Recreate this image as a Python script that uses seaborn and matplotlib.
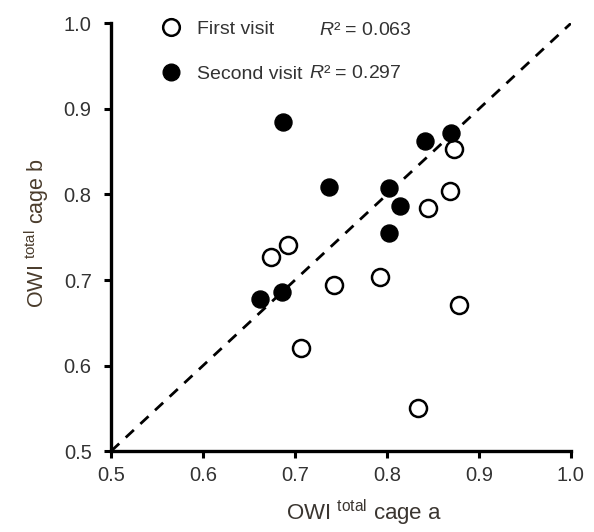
import matplotlib
matplotlib.use('Agg')
import matplotlib.pyplot as plt
import pandas as pd
import seaborn as sns
from matplotlib.lines import Line2D

# data
first_a = [0.873, 0.869, 0.845, 0.692, 0.674, 0.793, 0.742, 0.878, 0.707, 0.834]
first_b = [0.853, 0.804, 0.784, 0.741, 0.727, 0.703, 0.694, 0.671, 0.621, 0.551]
second_a = [0.687, 0.841, 0.870, 0.737, 0.802, 0.814, 0.802, 0.686, 0.662]
second_b = [0.885, 0.863, 0.872, 0.809, 0.808, 0.786, 0.755, 0.686, 0.678]
r2_first = 0.063
r2_second = 0.297
ticks = [0.5, 0.6, 0.7, 0.8, 0.9, 1.0]

sns.set_style('white')
plt.rcParams['font.family'] = ['Liberation Sans', 'DejaVu Sans']
plt.rcParams['mathtext.fontset'] = 'custom'
plt.rcParams['mathtext.rm'] = 'Liberation Sans'
plt.rcParams['mathtext.it'] = 'Liberation Sans:italic'

df = pd.concat([
    pd.DataFrame({'a': first_a, 'b': first_b, 'visit': 'First visit'}),
    pd.DataFrame({'a': second_a, 'b': second_b, 'visit': 'Second visit'}),
])

fig = plt.figure(figsize=(5.94, 5.32), dpi=100)
ax = fig.add_axes([0.187, 0.152, 0.774, 0.804])

ax.plot([0.5, 1.0], [0.5, 1.0], ls=(0, (4, 3.2)), color='black', lw=2, zorder=1)

sns.scatterplot(data=df[df.visit == 'First visit'], x='a', y='b', ax=ax,
                s=150, facecolor='white', edgecolor='black', linewidth=1.8,
                zorder=3, legend=False)
sns.scatterplot(data=df[df.visit == 'Second visit'], x='a', y='b', ax=ax,
                s=150, color='black', edgecolor='black', linewidth=1.0,
                zorder=3, legend=False)

ax.set_xlim(0.5, 1.0)
ax.set_ylim(0.5, 1.0)
ax.set_xticks(ticks)
ax.set_yticks(ticks)
ax.set_xticklabels([f'{t:.1f}' for t in ticks])
ax.set_yticklabels([f'{t:.1f}' for t in ticks])
ax.tick_params(axis='both', direction='out', length=5, width=2.2, colors='black',
               labelsize=14.5, labelcolor='#333333', left=True, bottom=True)
ax.tick_params(axis='x', pad=6)
ax.tick_params(axis='y', pad=9)
for side in ['top', 'right']:
    ax.spines[side].set_visible(False)
for side in ['left', 'bottom']:
    ax.spines[side].set_linewidth(2.4)
    ax.spines[side].set_color('black')

ax.set_xlabel('OWI $^{\\mathrm{total}}$ cage a', fontsize=16, color='#3a3530', labelpad=9)
ax.xaxis.label.set_x(0.55)
ax.set_ylabel('OWI $^{\\mathrm{total}}$ cage b', fontsize=15.5, color='#4a3c2c', labelpad=9)
ax.yaxis.label.set_y(0.51)

handles = [
    Line2D([], [], marker='o', ls='', ms=12, mfc='white', mec='black', mew=1.8),
    Line2D([], [], marker='o', ls='', ms=12, mfc='black', mec='black'),
]
ax.legend(handles, ['First visit', 'Second visit'], loc='upper left',
          bbox_to_anchor=(0.11, 1.008), frameon=False, fontsize=14,
          borderpad=0, borderaxespad=0, handlelength=1.0,
          handletextpad=0.8, labelspacing=1.41, labelcolor='#333333')
ax.text(0.726, 0.992, f'$\\it{{R}}$² = {r2_first:.3f}', fontsize=14,
        color='#333333', va='center', ha='left')
ax.text(0.715, 0.941, f'$\\it{{R}}$² = {r2_second:.3f}', fontsize=14,
        color='#333333', va='center', ha='left')

fig.savefig('out.png', dpi=100)
